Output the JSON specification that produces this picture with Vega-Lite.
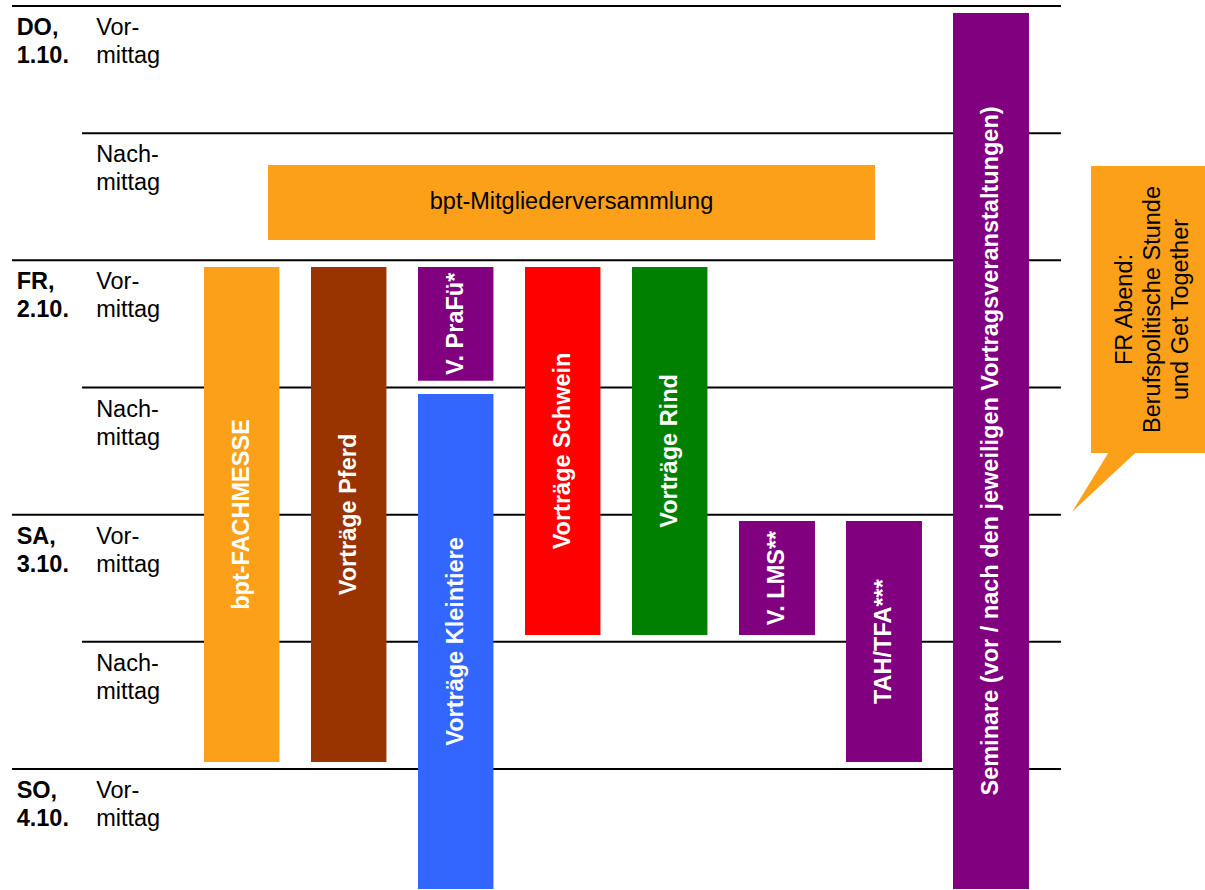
{
  "$schema": "https://vega.github.io/schema/vega-lite/v6.json",
  "width": 1205,
  "height": 890,
  "autosize": {"type": "none"},
  "padding": 0,
  "background": "white",
  "config": {"view": {"stroke": null}, "font": "Liberation Sans"},
  "datasets": {
    "slots": [
      {"slot": 0, "day": "DO,\n1.10.", "period": "Vor-\nmittag"},
      {"slot": 1, "day": "", "period": "Nach-\nmittag"},
      {"slot": 2, "day": "FR,\n2.10.", "period": "Vor-\nmittag"},
      {"slot": 3, "day": "", "period": "Nach-\nmittag"},
      {"slot": 4, "day": "SA,\n3.10.", "period": "Vor-\nmittag"},
      {"slot": 5, "day": "", "period": "Nach-\nmittag"},
      {"slot": 6, "day": "SO,\n4.10.", "period": "Vor-\nmittag"}
    ],
    "events": [
      {"event": "bpt-Mitgliederversammlung", "track": "bpt", "x0": 0.598, "x1": 6.271, "start": 1.25, "end": 1.84, "vertical": false},
      {"event": "bpt-FACHMESSE", "track": "bpt", "x0": 0, "x1": 0.705, "start": 2.052, "end": 5.945, "vertical": true},
      {"event": "Vorträge Pferd", "track": "Pferd", "x0": 1, "x1": 1.705, "start": 2.052, "end": 5.945, "vertical": true},
      {"event": "V. PraFü*", "track": "Sonstige", "x0": 2, "x1": 2.705, "start": 2.052, "end": 2.946, "vertical": true},
      {"event": "Vorträge Kleintiere", "track": "Kleintiere", "x0": 2, "x1": 2.705, "start": 3.051, "end": 6.943, "vertical": true},
      {"event": "Vorträge Schwein", "track": "Schwein", "x0": 3, "x1": 3.705, "start": 2.052, "end": 4.946, "vertical": true},
      {"event": "Vorträge Rind", "track": "Rind", "x0": 4, "x1": 4.705, "start": 2.052, "end": 4.946, "vertical": true},
      {"event": "V. LMS**", "track": "Sonstige", "x0": 5, "x1": 5.71, "start": 4.05, "end": 4.946, "vertical": true},
      {"event": "TAH/TFA***", "track": "Sonstige", "x0": 6, "x1": 6.71, "start": 4.05, "end": 5.945, "vertical": true},
      {"event": "Seminare (vor / nach den jeweiligen Vortragsveranstaltungen)", "track": "Sonstige", "x0": 7, "x1": 7.71, "start": 0.055, "end": 6.943, "vertical": true}
    ],
    "callout": [
      {"text": "FR Abend:\nBerufspolitische Stunde\nund Get Together", "x0": 8.29, "x1": 9.45, "start": 1.258, "end": 3.515}
    ],
    "pointer": [
      {"y": 3.979, "xa": 8.112, "xb": 8.112},
      {"y": 3.48, "xa": 8.477, "xb": 8.748}
    ]
  },
  "layer": [
    {
      "data": {"name": "slots"},
      "transform": [{"filter": "datum.day != ''"}],
      "mark": {"type": "rule", "color": "black", "strokeWidth": 2},
      "encoding": {
        "x": {"datum": -1.794, "type": "quantitative", "scale": {"domain": [-1.90654, 9.35514], "nice": false, "zero": false}, "axis": null},
        "x2": {"datum": 8.009},
        "y": {"field": "slot", "type": "quantitative", "scale": {"domain": [-0.04718, 6.9513], "nice": false, "zero": false, "reverse": true}, "axis": null}
      }
    },
    {
      "data": {"name": "slots"},
      "transform": [{"filter": "datum.day == ''"}],
      "mark": {"type": "rule", "color": "black", "strokeWidth": 2},
      "encoding": {
        "x": {"datum": -1.14, "type": "quantitative"},
        "x2": {"datum": 8.009},
        "y": {"field": "slot", "type": "quantitative"}
      }
    },
    {
      "data": {"name": "slots"},
      "transform": [{"filter": "datum.day != ''"}],
      "mark": {"type": "text", "align": "left", "baseline": "alphabetic", "dy": 29, "fontSize": 23.5, "fontWeight": "bold", "lineBreak": "\n", "lineHeight": 28, "color": "black"},
      "encoding": {
        "x": {"datum": -1.751, "type": "quantitative"},
        "y": {"field": "slot", "type": "quantitative"},
        "text": {"field": "day"}
      }
    },
    {
      "data": {"name": "slots"},
      "mark": {"type": "text", "align": "left", "baseline": "alphabetic", "dy": 29, "fontSize": 23.5, "lineBreak": "\n", "lineHeight": 28, "color": "black"},
      "encoding": {
        "x": {"datum": -1.008, "type": "quantitative"},
        "y": {"field": "slot", "type": "quantitative"},
        "text": {"field": "period"}
      }
    },
    {
      "data": {"name": "events"},
      "mark": {"type": "rect"},
      "encoding": {
        "x": {"field": "x0", "type": "quantitative"},
        "x2": {"field": "x1"},
        "y": {"field": "start", "type": "quantitative"},
        "y2": {"field": "end"},
        "color": {
          "field": "track", "type": "nominal", "legend": null,
          "scale": {"domain": ["bpt", "Pferd", "Kleintiere", "Schwein", "Rind", "Sonstige"], "range": ["#FDA019", "#993300", "#3366FF", "#FF0000", "#008000", "#800080"]}
        }
      }
    },
    {
      "data": {"name": "callout"},
      "mark": {"type": "rect", "color": "#FDA019"},
      "encoding": {
        "x": {"field": "x0", "type": "quantitative"},
        "x2": {"field": "x1"},
        "y": {"field": "start", "type": "quantitative"},
        "y2": {"field": "end"}
      }
    },
    {
      "data": {"name": "pointer"},
      "mark": {"type": "area", "orient": "horizontal", "color": "#FDA019", "opacity": 1},
      "encoding": {
        "y": {"field": "y", "type": "quantitative"},
        "x": {"field": "xa", "type": "quantitative"},
        "x2": {"field": "xb"}
      }
    },
    {
      "data": {"name": "events"},
      "transform": [
        {"filter": "datum.vertical"},
        {"calculate": "(datum.x0 + datum.x1) / 2", "as": "xc"},
        {"calculate": "(datum.start + datum.end) / 2", "as": "yc"}
      ],
      "mark": {"type": "text", "angle": 270, "align": "center", "baseline": "middle", "fontSize": 23.5, "fontWeight": "bold", "color": "white"},
      "encoding": {
        "x": {"field": "xc", "type": "quantitative"},
        "y": {"field": "yc", "type": "quantitative"},
        "text": {"field": "event"}
      }
    },
    {
      "data": {"name": "events"},
      "transform": [
        {"filter": "!datum.vertical"},
        {"calculate": "(datum.x0 + datum.x1) / 2", "as": "xc"},
        {"calculate": "(datum.start + datum.end) / 2", "as": "yc"}
      ],
      "mark": {"type": "text", "align": "center", "baseline": "middle", "fontSize": 23.5, "color": "black"},
      "encoding": {
        "x": {"field": "xc", "type": "quantitative"},
        "y": {"field": "yc", "type": "quantitative"},
        "text": {"field": "event"}
      }
    },
    {
      "data": {"name": "callout"},
      "transform": [
        {"calculate": "(datum.x0 + datum.x1) / 2", "as": "xc"},
        {"calculate": "(datum.start + datum.end) / 2", "as": "yc"}
      ],
      "mark": {"type": "text", "angle": 270, "align": "center", "baseline": "middle", "dy": -28, "fontSize": 23.5, "lineBreak": "\n", "lineHeight": 28, "color": "black"},
      "encoding": {
        "x": {"field": "xc", "type": "quantitative"},
        "y": {"field": "yc", "type": "quantitative"},
        "text": {"field": "text"}
      }
    }
  ]
}
